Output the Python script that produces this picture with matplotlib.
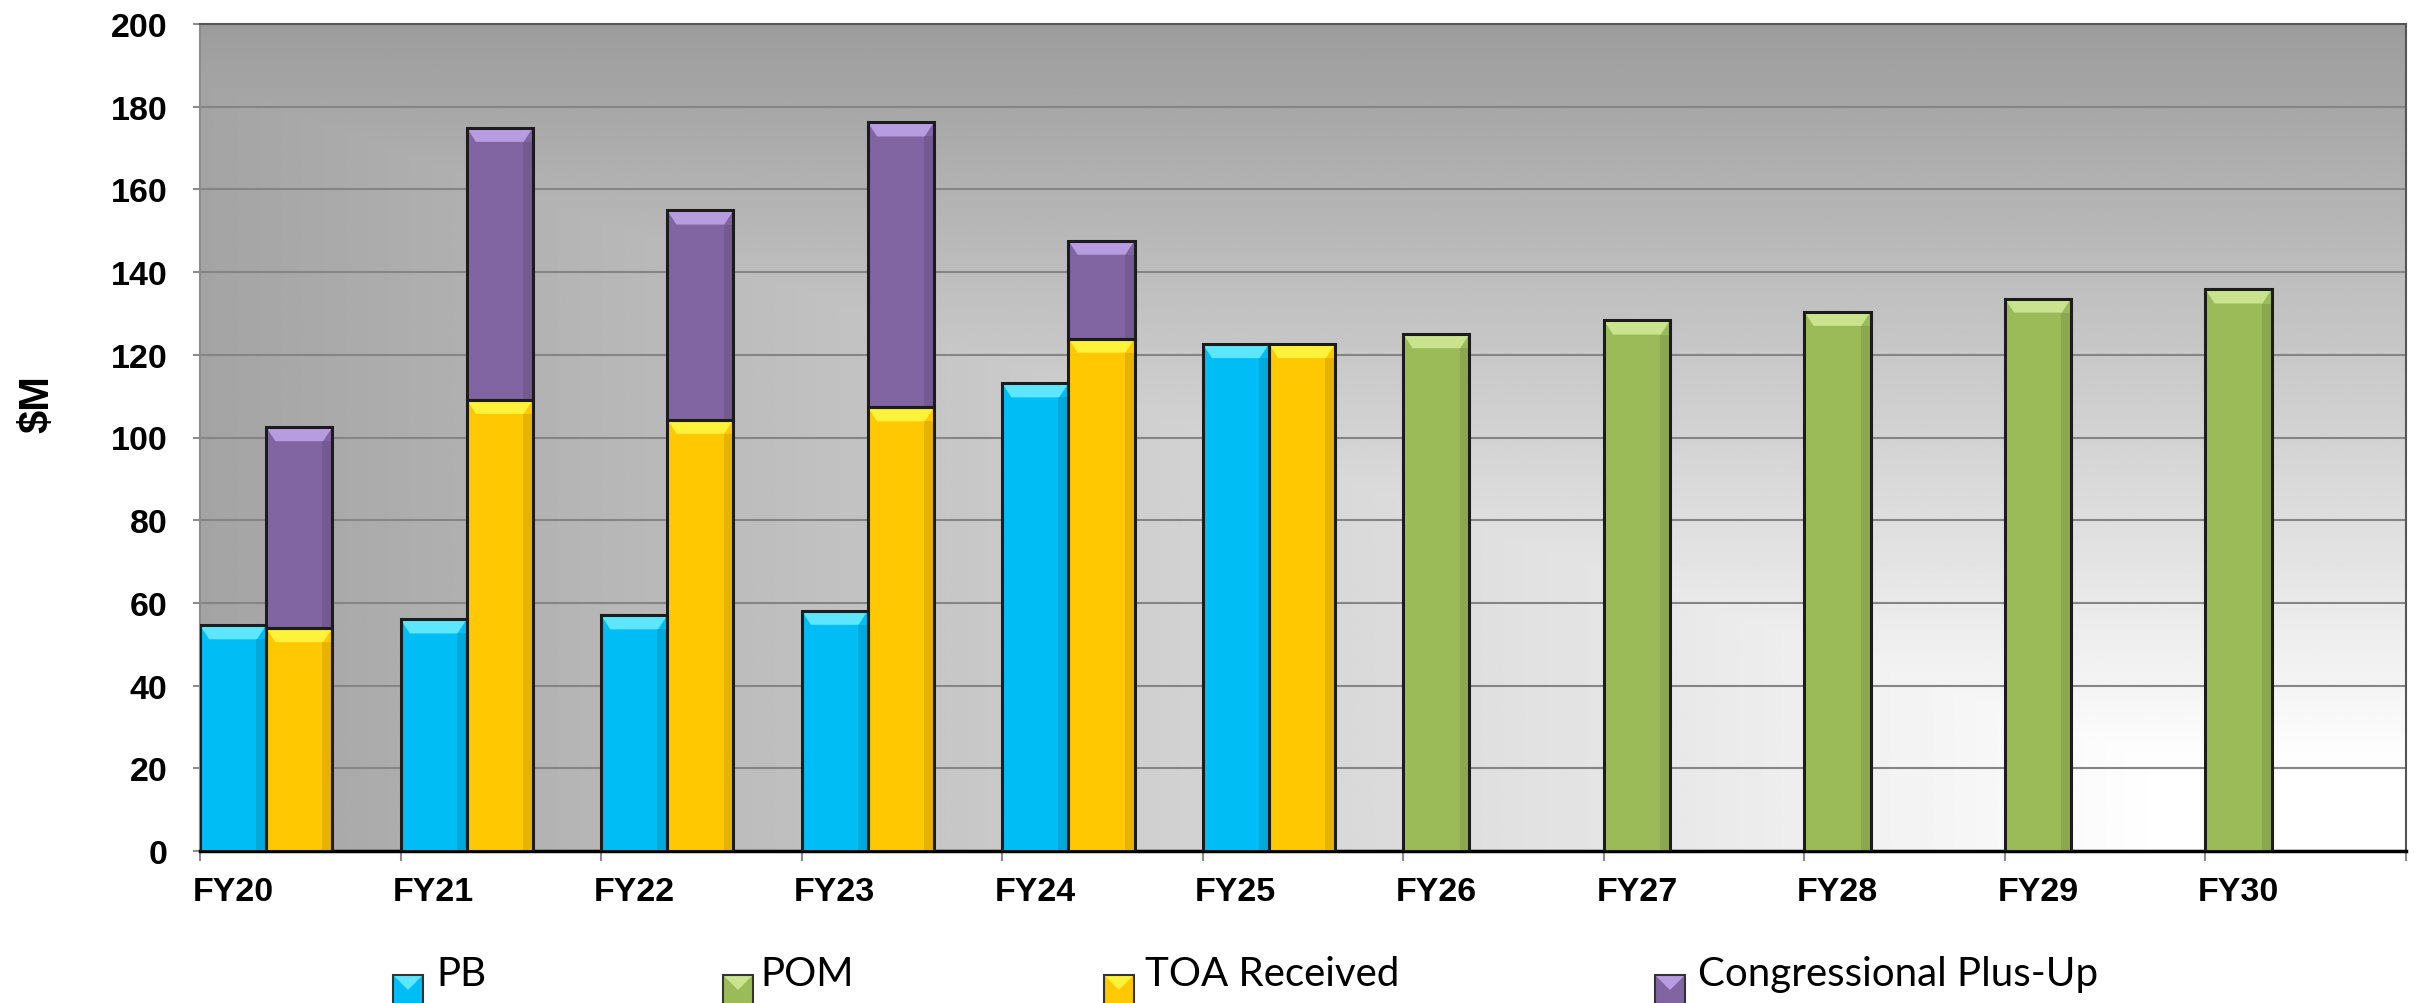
import numpy as np
import matplotlib
matplotlib.use("Agg")
import matplotlib.pyplot as plt
from matplotlib.patches import Polygon, Rectangle

# values ($M)
years = ["FY20", "FY21", "FY22", "FY23", "FY24", "FY25",
         "FY26", "FY27", "FY28", "FY29", "FY30"]
pb = [54.6, 56.0, 57.0, 58.1, 113.1, 122.6, None, None, None, None, None]
pom = [None, None, None, None, None, None, 125.0, 128.3, 130.4, 133.6, 135.8]
toa = [53.9, 109.1, 104.3, 107.3, 123.9, 122.6, None, None, None, None, None]
plus_up = [48.6, 65.8, 50.6, 68.9, 23.7, None, None, None, None, None, None]

series_names = ["PB", "POM", "TOA Received", "Congressional Plus-Up"]
face_colors = ["#00bdf5", "#9bbb59", "#ffc800", "#8165a2"]
light_colors = ["#5ee6ff", "#c9e38f", "#fff23a", "#b89ce0"]

W, H = 2422, 1004
BAR_W = 0.33
EDGE = "#1c1c1c"

plt.rcParams["font.family"] = ["Liberation Sans", "DejaVu Sans"]


def bevel_bar(ax, x, bottom, height, face, light):
    top = bottom + height
    ax.bar(x, height, BAR_W, bottom=bottom, align="edge", color=face,
           edgecolor="none", zorder=3)
    dh = min(3.4, height * 0.4)
    inset = BAR_W * 0.14
    ax.add_patch(Polygon([(x, top), (x + BAR_W, top),
                          (x + BAR_W - inset, top - dh), (x + inset, top - dh)],
                         closed=True, facecolor=light, edgecolor="none", zorder=4))
    # darker shading along the right side
    ax.add_patch(Rectangle((x + BAR_W * 0.85, bottom), BAR_W * 0.15, height - dh,
                           facecolor="black", alpha=0.10, edgecolor="none", zorder=4))
    ax.bar(x, height, BAR_W, bottom=bottom, align="edge", fill=False,
           edgecolor=EDGE, linewidth=2.2, zorder=5)


fig = plt.figure(figsize=(W / 100, H / 100), dpi=100)
ax = fig.add_axes([200 / W, 1 - 852 / H, (2406 - 200) / W, (852 - 25) / H])

# plot area gradient: light in the bottom-right corner, grey elsewhere
u = np.linspace(0, 1, 900)
v = np.linspace(1, 0, 450)
U, V = np.meshgrid(u, v)
d = np.maximum((1 - U) * 0.93, V)
shade = np.clip(156 + 110 * (1 - d), 0, 255) / 255
ax.imshow(shade, cmap="gray", vmin=0, vmax=1, extent=(0, 1, 0, 1),
          transform=ax.transAxes, aspect="auto", zorder=0,
          interpolation="bilinear")

for i in range(len(years)):
    if pb[i] is not None:
        bevel_bar(ax, i, 0, pb[i], face_colors[0], light_colors[0])
    if pom[i] is not None:
        bevel_bar(ax, i, 0, pom[i], face_colors[1], light_colors[1])
    if toa[i] is not None:
        bevel_bar(ax, i + BAR_W, 0, toa[i], face_colors[2], light_colors[2])
        if plus_up[i] is not None:
            bevel_bar(ax, i + BAR_W, toa[i], plus_up[i], face_colors[3], light_colors[3])

ax.set_xlim(0, 11)
ax.set_ylim(0, 200)
ax.set_yticks(range(0, 201, 20))
ax.yaxis.grid(True, color="#858585", linewidth=1.5)
ax.set_axisbelow(True)

ax.set_xticks(np.arange(len(years)) + BAR_W / 2, labels=years)
ax.set_xticks(np.arange(12), minor=True)
ax.tick_params(axis="x", which="major", length=0, pad=18, labelsize=24.5)
ax.tick_params(axis="x", which="minor", length=7, width=1.5,
               color="#8c8c8c", direction="out")
ax.tick_params(axis="y", direction="out", length=5, width=1.5,
               color="#8c8c8c", pad=18.5, labelsize=24.5)
for lbl in ax.get_xticklabels() + ax.get_yticklabels():
    lbl.set_fontweight("bold")

ax.spines["bottom"].set_color("black")
ax.spines["bottom"].set_linewidth(2.5)
ax.spines["left"].set_color("#8c8c8c")
ax.spines["left"].set_linewidth(1.5)
for side in ("top", "right"):
    ax.spines[side].set_color("#555555")
    ax.spines[side].set_linewidth(1.5)

fig.text(37 / W, 1 - 404 / H, "$M", rotation=90, fontsize=30,
         fontweight="bold", ha="center", va="center")

# legend along the bottom edge
marker_x = [393, 723, 1104, 1655]
text_x = [436, 760, 1145, 1698]
for name, face, light, mx, tx in zip(series_names, face_colors, light_colors,
                                     marker_x, text_x):
    x0, y0 = mx / W, (H - 1006) / H
    w, h = 30 / W, 30 / H
    fig.patches.append(Rectangle((x0, y0), w, h, transform=fig.transFigure,
                                 facecolor=face, edgecolor="none"))
    fig.patches.append(Polygon([(x0, y0 + h), (x0 + w, y0 + h),
                                (x0 + w / 2, y0 + h / 2)], closed=True,
                               transform=fig.transFigure, facecolor=light,
                               edgecolor="none"))
    fig.patches.append(Rectangle((x0, y0), w, h, transform=fig.transFigure,
                                 fill=False, edgecolor="#333333", linewidth=1.5))
    fig.text(tx / W, 1 - 986 / H, name, fontsize=29, family=["Lato", "DejaVu Sans"],
             ha="left", va="baseline")

fig.savefig("out.png", dpi=100)
